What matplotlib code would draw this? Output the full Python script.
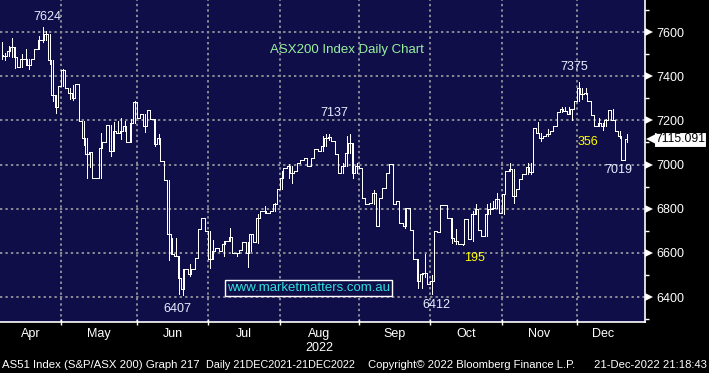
import matplotlib
matplotlib.use("Agg")
import matplotlib.pyplot as plt
import matplotlib.transforms as mtransforms
import numpy as np

plt.rcParams['font.family'] = ['Liberation Sans', 'DejaVu Sans']

# daily closes, one list per month (trading days only)
apr_close = [7496, 7490, 7515, 7530, 7487, 7442, 7476, 7476, 7450, 7476, 7521, 7562,
             7564, 7590, 7472, 7315, 7260, 7356]
may_close = [7428, 7348, 7325, 7300, 7366, 7197, 7118, 7046, 7058, 6937, 6940, 7073,
             7100, 7179, 7061, 7152, 7144, 7152, 7174, 7102, 7189, 7283]
jun_close = [7212, 7230, 7174, 7245, 7205, 7092, 7119, 7016, 6928, 6684, 6593, 6586,
             6487, 6435, 6525, 6503, 6525, 6578, 6707, 6760, 6699]
jul_close = [6570, 6608, 6623, 6608, 6638, 6653, 6672, 6600, 6600, 6615, 6650, 6600,
             6684, 6650, 6760, 6790, 6790, 6782, 6790, 6823, 6888]
aug_close = [6941, 6986, 6994, 6963, 6971, 7008, 7019, 7031, 6994, 7031, 7069, 7061,
             7084, 7121, 7125, 7106, 7046, 6963, 6994, 7054, 7099, 6963, 6994]
sep_close = [6986, 6850, 6820, 6827, 6873, 6722, 6850, 6895, 6963, 7004, 6823, 6835,
             6737, 6722, 6805, 6702, 6571, 6473, 6503, 6510, 6457]
oct_close = [6472, 6699, 6696, 6817, 6817, 6760, 6669, 6654, 6642, 6642, 6755, 6661,
             6775, 6797, 6702, 6676, 6778, 6797, 6805, 6843, 6782]
nov_close = [6865, 6971, 6978, 6858, 6888, 6933, 6959, 6990, 6965, 7167, 7141, 7119,
             7129, 7137, 7152, 7174, 7239, 7250, 7242, 7230, 7250, 7288]
dec_close = [7348, 7318, 7325, 7288, 7224, 7174, 7189, 7174, 7200, 7245, 7200, 7152,
             7129, 7019, 7115]
months = ['Apr', 'May', 'Jun', 'Jul', 'Aug', 'Sep', 'Oct', 'Nov', 'Dec']

# intraday high/low spikes that stick out of the step line
wick_day = [0, 1, 2, 3, 4, 6, 7, 8, 11, 12, 13, 14, 15, 16,
            18, 20, 21, 24, 25, 26, 29, 32, 33, 34, 35, 36, 38, 39,
            42, 45, 46, 49, 50, 51, 52, 53, 55,
            61, 62, 65, 67, 69, 72, 73, 75, 77, 80,
            82, 84, 85, 94, 95, 96, 100, 101, 102, 103, 104,
            109, 118, 122, 123, 124,
            126, 132, 133, 135, 138, 139, 142, 143, 144, 145,
            147, 149, 150, 154, 155, 157, 158, 160, 164, 165, 166, 167,
            169, 170, 171, 175, 176, 177, 179, 181, 183]
wick_low = [7480, 7475, 7490, 7487, 7438, 7442, 7450, 7431, 7521, 7555, 7564, 7454, 7288, 7235,
            7356, 7298, 7290, 7090, 6939, 6989, 6940, 7038, 7061, 7144, 7114, 7152, 7102, 7189,
            7149, 7084, 7092, 6566, 6593, 6586, 6412, 6407, 6495,
            6533, 6570, 6586, 6653, 6586, 6536, 6608, 6646, 6782, 6790,
            6888, 6941, 6918, 7061, 7084, 7110, 6963, 6994, 7054, 6940, 6963,
            6820, 6714, 6443, 6443, 6490,
            6412, 6646, 6639, 6636, 6654, 6775, 6676, 6775, 6797, 6805,
            6775, 6971, 6827, 6959, 6956, 7141, 7107, 7129, 7239, 7242, 7230, 7200,
            7288, 7295, 7318, 7174, 7158, 7174, 7200, 7122, 7100]
wick_high = [7556, 7505, 7537, 7574, 7530, 7500, 7521, 7476, 7582, 7624, 7605, 7590, 7472, 7315,
             7431, 7348, 7362, 7197, 7118, 7058, 7144, 7179, 7193, 7198, 7212, 7198, 7205, 7286,
             7230, 7205, 7137, 6928, 6666, 6669, 6586, 6525, 6548,
             6699, 6657, 6654, 6711, 6600, 6650, 6684, 6775, 6812, 6827,
             6971, 7001, 6994, 7129, 7137, 7137, 7008, 7129, 7137, 7099, 7008,
             6884, 6805, 6571, 6510, 6593,
             6500, 6760, 6707, 6642, 6790, 6820, 6820, 6827, 6835, 6873,
             6865, 7008, 6978, 7008, 7008, 7193, 7141, 7160, 7260, 7260, 7260, 7250,
             7375, 7348, 7348, 7210, 7189, 7204, 7250, 7152, 7137]

closes = [apr_close, may_close, jun_close, jul_close, aug_close,
          sep_close, oct_close, nov_close, dec_close]
close = np.concatenate(closes)
days = np.arange(len(close))
month_start = np.cumsum([0] + [len(c) for c in closes])

navy = '#0f0e48'
grid_c = '#8c8c96'
fig = plt.figure(figsize=(7.09, 3.73), dpi=100, facecolor='black')
ax = fig.add_axes([0, 51 / 373, 645 / 709, 322 / 373], facecolor=navy)

ax.step(days, close, where='mid', color='white', lw=0.6, antialiased=False)
ax.vlines(wick_day, wick_low, wick_high, color='white', lw=0.6, antialiased=False)

ax.set_xlim(-0.5, 188.4)
ax.set_ylim(6287, 7745)

# grid
yt = [6400, 6600, 6800, 7000, 7200, 7400, 7600]
for y in yt:
    ax.axhline(y, color=grid_c, lw=1.4, ls=(0, (1.2, 1.6)), zorder=0)
for m in month_start[1:-1]:
    ax.axvline(m - 0.5, color=grid_c, lw=1.4, ls=(0, (1.2, 1.6)), zorder=0)

for s in ['top', 'left']:
    ax.spines[s].set_visible(False)
for s in ['right', 'bottom']:
    ax.spines[s].set_color('white')
    ax.spines[s].set_linewidth(1.2)

# y axis on the right, Bloomberg style arrows
ax.yaxis.tick_right()
ax.set_yticks(yt)
ax.set_yticklabels([str(v) for v in yt])
ax.set_yticks(np.arange(6300, 7800, 200), minor=True)
ax.tick_params(axis='y', which='major', length=0, pad=8, labelsize=9, labelcolor='white')
ax.tick_params(axis='y', which='minor', length=3, width=1, color='white', direction='out')
arrow_tr = mtransforms.offset_copy(ax.get_yaxis_transform(), fig=fig, x=4, y=0, units='dots')
ax.plot([1] * len(yt), yt, ls='none', marker='>', ms=6, color='white', mew=0,
        transform=arrow_tr, clip_on=False)

# x axis: ticks at month boundaries, labels mid-month
ax.set_xticks(month_start[1:-1] - 0.5)
ax.set_xticklabels([])
mids = (month_start[:-1] + month_start[1:]) / 2 - 0.5
ax.set_xticks(mids, months, minor=True)
ax.tick_params(axis='x', which='major', length=4, width=1, color='white', direction='inout')
ax.tick_params(axis='x', which='minor', length=0, pad=4, labelsize=9, labelcolor='white')
ax.text(mids[4], -0.081, '2022', transform=ax.get_xaxis_transform(), color='white',
        fontsize=9, ha='center', va='center')

# last price box
ax.plot([1], [close[-1]], ls='none', marker='<', ms=7, color='white', mew=0,
        transform=mtransforms.offset_copy(ax.get_yaxis_transform(), fig=fig, x=6, units='dots'),
        clip_on=False, zorder=5)
ax.text(1, close[-1], '7115.091', transform=mtransforms.offset_copy(
        ax.get_yaxis_transform(), fig=fig, x=10, units='dots'),
        color='black', fontsize=8.8, ha='left', va='center', clip_on=False,
        bbox=dict(boxstyle='square,pad=0.12', fc='white', ec='black', lw=0.8))

# annotations
lbl = '#e8eeff'
ax.text(13.4, 7668, '7624', color=lbl, fontsize=9, ha='center', va='center')
ax.text(97.5, 7233, '7137', color=lbl, fontsize=9, ha='center', va='center')
ax.text(167.6, 7442, '7375', color=lbl, fontsize=9, ha='center', va='center')
ax.text(180.5, 6975, '7019', color=lbl, fontsize=9, ha='center', va='center')
ax.text(51.5, 6346, '6407', color=lbl, fontsize=9, ha='center', va='center')
ax.text(127.4, 6364, '6412', color=lbl, fontsize=9, ha='center', va='center')
ax.text(171.7, 7102, '356', color='#ffff00', fontsize=9, ha='center', va='center')
ax.text(138.6, 6577, '195', color='#ffff00', fontsize=9, ha='center', va='center')
ax.text(101.1, 7518, 'ASX200 Index Daily Chart', color='#98f0a0', fontsize=9.5,
        ha='center', va='center')
ax.text(89.8, 6441, 'www.marketmatters.com.au', color='#30e0e0', fontsize=9.5,
        ha='center', va='center',
        bbox=dict(boxstyle='square,pad=0.15', fc=navy, ec='white', lw=1))

# footer
fy = 1 - 365 / 373
fig.text(2 / 709, fy, 'AS51 Index (S&P/ASX 200) Graph 217', color='white', fontsize=8.2, va='center')
fig.text(206 / 709, fy, 'Daily 21DEC2021-21DEC2022', color='white', fontsize=7.8, va='center')
fig.text(368 / 709, fy, 'Copyright\u00a9 2022 Bloomberg Finance L.P.', color='white', fontsize=8.1, va='center')
fig.text(707 / 709, fy, '21-Dec-2022 21:18:43', color='white', fontsize=8.1, va='center', ha='right')

fig.savefig('out.png', dpi=100, facecolor='black')
